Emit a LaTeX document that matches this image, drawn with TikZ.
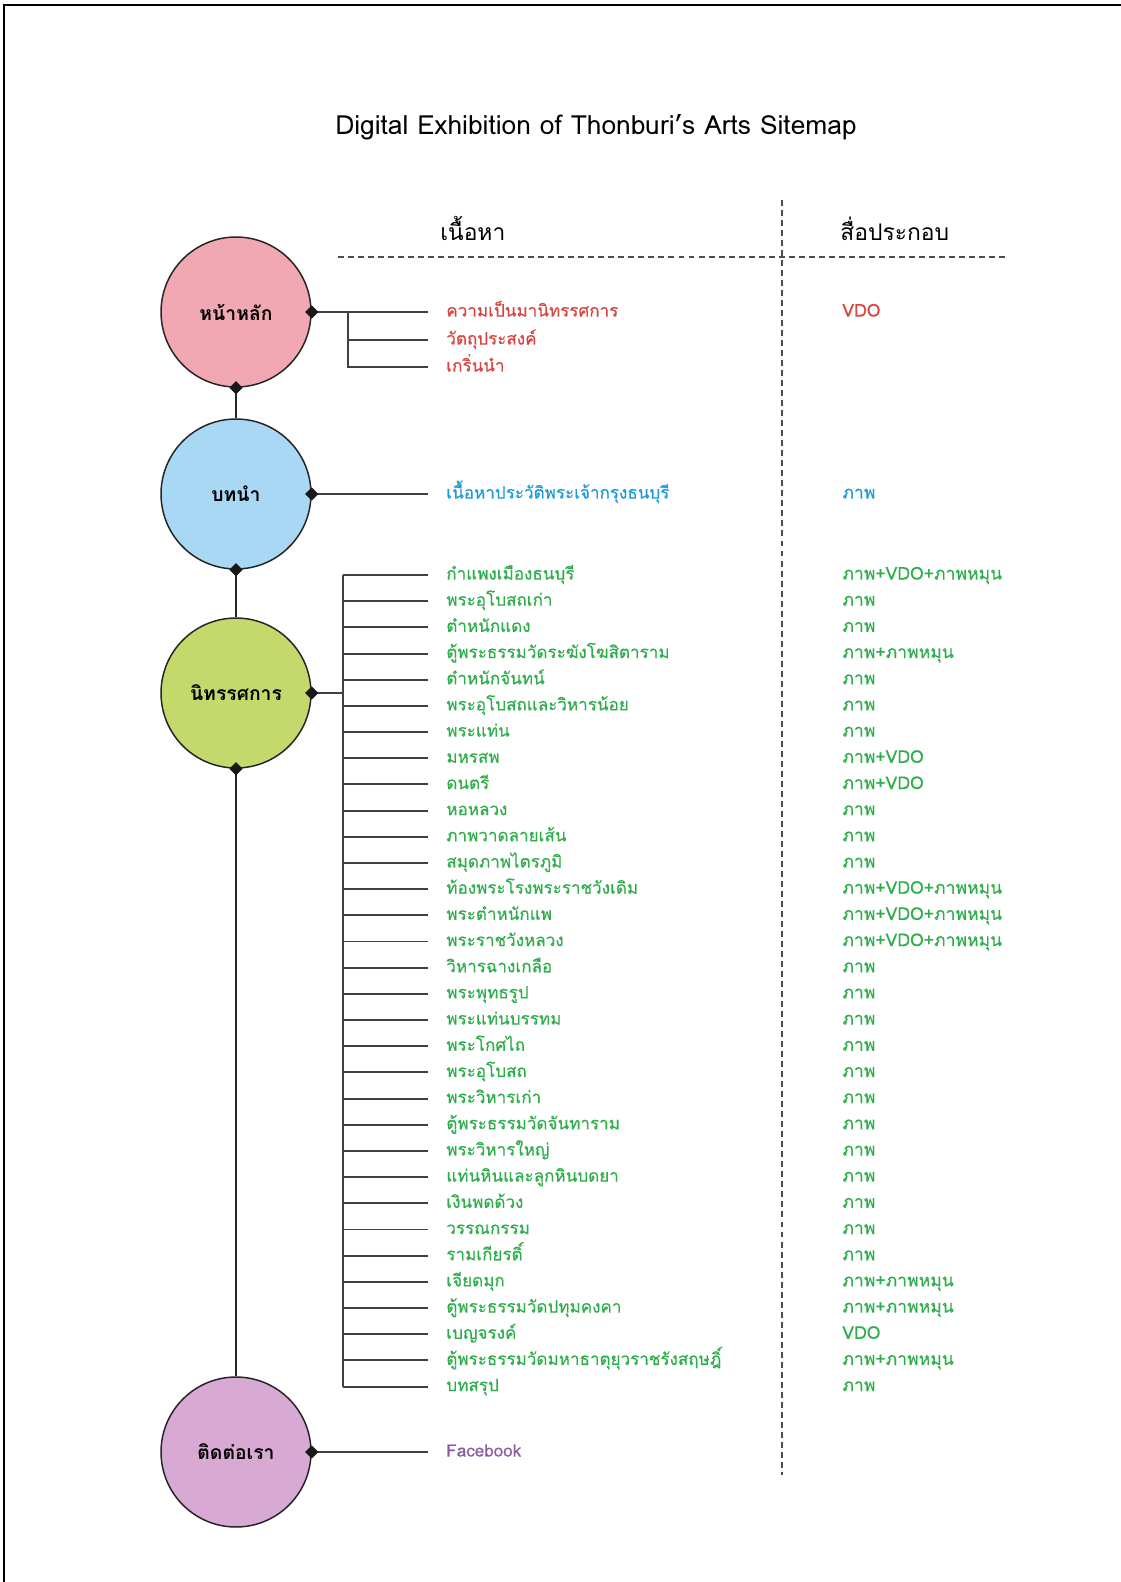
\documentclass[tikz,border=0pt]{standalone}
\usepackage{fontspec}
\setmainfont{Loma}[Script=Thai]
\newfontfamily\thaimedio{Loma}[Script=Thai, FakeBold=0.35]
\usetikzlibrary{shapes.geometric}

\definecolor{rosa}{HTML}{F2A8B2}
\definecolor{celeste}{HTML}{A8D8F4}
\definecolor{verdelima}{HTML}{C3D96B}
\definecolor{lila}{HTML}{D8AAD3}
\definecolor{rojotxt}{HTML}{D9443F}
\definecolor{azultxt}{HTML}{1E9AD6}
\definecolor{verdetxt}{HTML}{2EAD4B}
\definecolor{moradotxt}{HTML}{8A5BA3}

\begin{document}
\begin{tikzpicture}[x=0.02cm, y=-0.02cm,
    circulo/.style={circle, draw=black!85, line width=0.85pt, minimum size=3cm,
        inner sep=0pt, font=\bfseries\fontsize{11}{13}\selectfont},
    punto/.style={diamond, fill=black!90, minimum size=0.27cm, inner sep=0pt},
    tema/.style={anchor=mid west, inner xsep=0.36cm, inner ysep=0pt,
        font=\thaimedio\fontsize{9.7}{12}\selectfont},
    medio/.style={anchor=mid west, inner sep=0pt, font=\thaimedio\fontsize{10}{12}\selectfont},
    rama/.style={line width=1.1pt, black!75},
    eje/.style={line width=1.6pt, black!85},
    guia/.style={dash pattern=on 3.4pt off 2.3pt, line width=0.6pt, black!70}]

    \useasboundingbox (0,0) rectangle (1121,1582);

    % Marco
    \draw[line width=0.9pt] (4,1582) -- (4,5) -- (1121,5);

    % Titulo y encabezados
    \node[anchor=base, font=\fontsize{15}{17}\selectfont] (titulo) at (596,134)
        {Digital Exhibition of Thonburi's Arts Sitemap};
    \node[anchor=base west, font=\fontsize{13}{15}\selectfont, inner sep=0pt] (hcont) at (440,240) {เนื้อหา};
    \node[anchor=base west, font=\fontsize{13}{15}\selectfont, inner sep=0pt] (hmed) at (840,240) {สื่อประกอบ};
    \draw[guia] (338,257) -- (1007,257);
    \draw[guia] (782,200) -- (782,1475);

    % Circulos
    \node[circulo, fill=rosa] (inicio) at (236,312) {หน้าหลัก};
    \node[circulo, fill=celeste] (intro) at (236,494) {บทนำ};
    \node[circulo, fill=verdelima] (expo) at (236,693) {นิทรรศการ};
    \node[circulo, fill=lila] (contacto) at (236,1452) {ติดต่อเรา};

    % Eje vertical
    \draw[eje] (inicio.south) -- (intro.north);
    \draw[eje] (intro.south) -- (expo.north);
    \draw[eje] (expo.south) -- (contacto.north);

    % Pagina principal
    \coordinate (br1) at (348,312);
    \node[tema, text=rojotxt] (ca) at (428,312) {ความเป็นมานิทรรศการ};
    \node[tema, text=rojotxt] (cb) at (428,340) {วัตถุประสงค์};
    \node[tema, text=rojotxt] (cc) at (428,367) {เกริ่นนำ};
    \node[medio, text=rojotxt] (ma) at (842,312) {VDO};
    \draw[rama] (inicio.east) -- (ca.mid west);
    \draw[rama] (br1) |- (cc.mid west);
    \draw[rama] (br1 |- cb.mid west) -- (cb.mid west);

    % Introduccion
    \node[tema, text=azultxt] (ci) at (428,494) {เนื้อหาประวัติพระเจ้ากรุงธนบุรี};
    \node[medio, text=azultxt] (mi) at (842,494) {ภาพ};
    \draw[rama] (intro.east) -- (ci.mid west);

    % Exposicion
    \coordinate (br3) at (343,693);
    \foreach \n/\tem/\med in {1/กำแพงเมืองธนบุรี/ภาพ+VDO+ภาพหมุน, 2/พระอุโบสถเก่า/ภาพ,
        3/ตำหนักแดง/ภาพ, 4/ตู้พระธรรมวัดระฆังโฆสิตาราม/ภาพ+ภาพหมุน, 5/ตำหนักจันทน์/ภาพ,
        6/พระอุโบสถและวิหารน้อย/ภาพ, 7/พระแท่น/ภาพ, 8/มหรสพ/ภาพ+VDO, 9/ดนตรี/ภาพ+VDO,
        10/หอหลวง/ภาพ, 11/ภาพวาดลายเส้น/ภาพ, 12/สมุดภาพไตรภูมิ/ภาพ,
        13/ท้องพระโรงพระราชวังเดิม/ภาพ+VDO+ภาพหมุน, 14/พระตำหนักแพ/ภาพ+VDO+ภาพหมุน,
        15/พระราชวังหลวง/ภาพ+VDO+ภาพหมุน, 16/วิหารฉางเกลือ/ภาพ, 17/พระพุทธรูป/ภาพ,
        18/พระแท่นบรรทม/ภาพ, 19/พระโกศไถ/ภาพ, 20/พระอุโบสถ/ภาพ, 21/พระวิหารเก่า/ภาพ,
        22/ตู้พระธรรมวัดจันทาราม/ภาพ, 23/พระวิหารใหญ่/ภาพ, 24/แท่นหินและลูกหินบดยา/ภาพ,
        25/เงินพดด้วง/ภาพ, 26/วรรณกรรม/ภาพ, 27/รามเกียรติ์/ภาพ, 28/เจียดมุก/ภาพ+ภาพหมุน,
        29/ตู้พระธรรมวัดปทุมคงคา/ภาพ+ภาพหมุน, 30/เบญจรงค์/VDO,
        31/ตู้พระธรรมวัดมหาธาตุยุวราชรังสฤษฎิ์/ภาพ+ภาพหมุน, 32/บทสรุป/ภาพ} {
        \pgfmathsetmacro{\yv}{575+(\n-1)*26.18}
        \node[tema, text=verdetxt] (e\n) at (428,\yv) {\tem};
        \node[medio, text=verdetxt] (m\n) at (842,\yv) {\med};
        \draw[rama] (br3 |- e\n.mid west) -- (e\n.mid west);
    }
    \draw[rama] (expo.east) -- (br3);
    \draw[rama] (br3 |- e1.mid west) -- (br3 |- e32.mid west);

    % Contacto
    \node[tema, text=moradotxt] (fb) at (428,1452) {Facebook};
    \draw[rama] (contacto.east) -- (fb.mid west);

    % Rombos
    \foreach \c in {inicio, intro, expo, contacto}
        \node[punto] (\c-e) at (\c.east) {};
    \foreach \c in {inicio, intro, expo}
        \node[punto] (\c-s) at (\c.south) {};

\end{tikzpicture}
\end{document}
